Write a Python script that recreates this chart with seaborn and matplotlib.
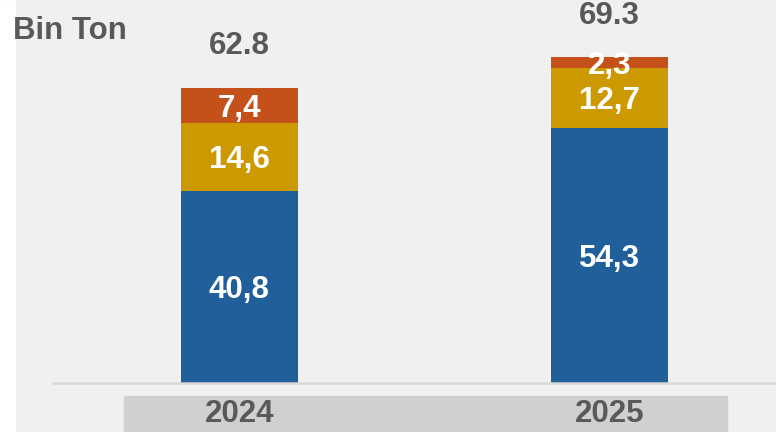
import seaborn as sns
import matplotlib.pyplot as plt
import pandas as pd
from matplotlib.patches import Rectangle

# values in thousand tons (Bin Ton)
years = ["2024", "2025"]
blue_vals = [40.8, 54.3]
yellow_vals = [14.6, 12.7]
orange_vals = [7.4, 2.3]

BLUE = "#215f9a"
YELLOW = "#cc9a00"
ORANGE = "#c4501a"
GRAY_TXT = "#595959"
BG = "#f0f0f0"


def comma(v):
    return f"{v:.1f}".replace(".", ",")


df = pd.DataFrame({"year": years, "blue": blue_vals,
                   "yellow": yellow_vals, "orange": orange_vals})
df["mid"] = df["blue"] + df["yellow"]
df["total"] = df["mid"] + df["orange"]

sns.set_style("white")
plt.rcParams["font.family"] = ["Liberation Sans", "DejaVu Sans"]

fig = plt.figure(figsize=(7.76, 4.32), dpi=100)
fig.patch.set_facecolor(BG)
fig.patches.append(Rectangle((0, 0), 15 / 776, 1, transform=fig.transFigure,
                             color="white", zorder=0))
fig.patches.append(Rectangle((124 / 776, 0), 603 / 776, 36 / 432,
                             transform=fig.transFigure, color="#d0d0d0", zorder=0))

ax = fig.add_axes([53 / 776, 49 / 432, 723 / 776, 383 / 432])
ax.set_facecolor("none")
ax.set_zorder(2)

bw = 0.316
sns.barplot(data=df, x="year", y="total", color=ORANGE, width=bw,
            saturation=1, linewidth=0, ax=ax)
sns.barplot(data=df, x="year", y="mid", color=YELLOW, width=bw,
            saturation=1, linewidth=0, ax=ax)
sns.barplot(data=df, x="year", y="blue", color=BLUE, width=bw,
            saturation=1, linewidth=0, ax=ax)

fs = 22.5
dy = 0.7  # nudge white labels down a little
lbl = dict(color="white", fontsize=fs, fontweight="bold", ha="center", va="center")
for i, r in df.iterrows():
    ax.text(i, r["blue"] / 2 - dy, comma(r["blue"]), **lbl)
    ax.text(i, r["blue"] + r["yellow"] / 2 - dy, comma(r["yellow"]), **lbl)
    ax.text(i, r["mid"] + r["orange"] / 2 - dy, comma(r["orange"]), **lbl)
    ax.text(i, r["total"] + 8.9, f"{r['total']:.1f}", color=GRAY_TXT,
            fontsize=fs, fontweight="bold", ha="center", va="center")
    ax.text(i, -0.082, r["year"], transform=ax.get_xaxis_transform(),
            color=GRAY_TXT, fontsize=fs, fontweight="bold",
            ha="center", va="center", clip_on=False)

ax.set_xlim(-0.503, 1.45)
ax.set_ylim(0, 81.5)
ax.set_xticks([])
ax.set_yticks([])
ax.set_xlabel("")
ax.set_ylabel("")
for s in ["top", "right", "left"]:
    ax.spines[s].set_visible(False)
ax.spines["bottom"].set_color("#d9d9d9")
ax.spines["bottom"].set_linewidth(1.8)

fig.text(13 / 776, 1 - 31 / 432, "Bin Ton", color=GRAY_TXT, fontsize=fs,
         fontweight="bold", ha="left", va="center")

fig.savefig("out.png", dpi=100, facecolor=fig.get_facecolor())
